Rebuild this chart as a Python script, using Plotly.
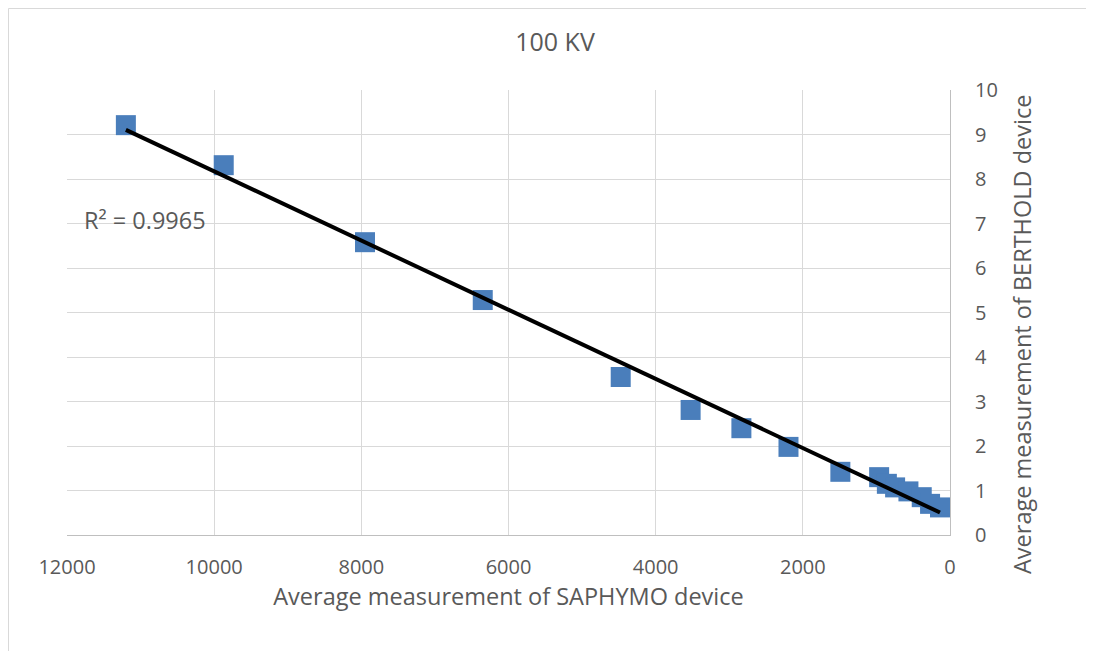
import numpy as np
import plotly.graph_objects as go

# Data
saphymo = [11200, 9870, 7950, 6350, 4475, 3525, 2835, 2195, 1490, 963, 858, 746, 565, 384, 271, 136]
berthold = [9.21, 8.31, 6.58, 5.28, 3.55, 2.81, 2.40, 1.98, 1.42, 1.30, 1.15, 1.07, 0.98, 0.85, 0.70, 0.62]
x_ticks = [12000, 10000, 8000, 6000, 4000, 2000, 0]
y_ticks = [0, 1, 2, 3, 4, 5, 6, 7, 8, 9, 10]
r2_text = "R² = 0.9965"
x_title = "Average measurement of SAPHYMO device"
y_title = "Average measurement of BERTHOLD device"

xs = np.array(saphymo, dtype=float)
ys = np.array(berthold, dtype=float)
slope, intercept = np.polyfit(xs, ys, 1)
fit_x = [xs.max(), xs.min()]
fit_y = [slope * v + intercept for v in fit_x]

grey = "#595959"
font = "Open Sans"

W, H = 1086, 643
L, R, T, B = 59, 144, 82, 116
pw, ph = W - L - R, H - T - B

fig = go.Figure()
fig.add_trace(go.Scatter(
    x=saphymo, y=berthold, mode="markers",
    marker=dict(symbol="square", size=20, color="#4A7EBB", line=dict(width=0)),
    showlegend=False, hoverinfo="skip"))
fig.add_trace(go.Scatter(
    x=fit_x, y=fit_y, mode="lines",
    line=dict(color="black", width=4), showlegend=False, hoverinfo="skip"))

fig.update_layout(
    width=W, height=H,
    margin=dict(l=L, r=R, t=T, b=B),
    paper_bgcolor="white", plot_bgcolor="white",
    font=dict(family=font, color=grey, size=20),
    title=dict(text="100 KV", x=547 / W, xanchor="center",
               y=1 - 34 / H, yanchor="middle", font=dict(size=25, color=grey)),
    xaxis=dict(range=[12000, 0], tickvals=x_ticks, ticktext=[str(v) for v in x_ticks],
               showgrid=True, gridcolor="#D9D9D9", gridwidth=1,
               showline=True, linecolor="#BFBFBF", linewidth=1, zeroline=False,
               ticks="", ticklabelstandoff=14, tickfont=dict(size=20, color=grey),
               title=dict(text=x_title, font=dict(size=23.5, color=grey), standoff=6)),
    yaxis=dict(range=[0, 10], tickvals=y_ticks, side="right",
               showgrid=True, gridcolor="#D9D9D9", gridwidth=1,
               showline=True, linecolor="#BFBFBF", linewidth=1, zeroline=False,
               ticks="", ticklabelstandoff=20, tickfont=dict(size=20, color=grey)),
    annotations=[
        dict(text=r2_text, xref="paper", yref="paper",
             x=(137 - L) / pw, y=(T + ph - 212) / ph,
             xanchor="center", yanchor="middle", showarrow=False,
             font=dict(size=23.5, color=grey)),
        dict(text=y_title, xref="paper", yref="paper", textangle=-90,
             x=(1014 - L) / pw, y=(T + ph - 326) / ph,
             xanchor="center", yanchor="middle", showarrow=False,
             font=dict(size=23.5, color=grey)),
    ],
    shapes=[
        dict(type="line", xref="paper", yref="paper",
             x0=(0.5 - L) / pw, x1=(0.5 - L) / pw,
             y0=(T + ph - H) / ph, y1=(T + ph - 0.5) / ph,
             line=dict(color="#D9D9D9", width=1), layer="below"),
        dict(type="line", xref="paper", yref="paper",
             x0=(0.5 - L) / pw, x1=(W - L) / pw,
             y0=(T + ph - 0.5) / ph, y1=(T + ph - 0.5) / ph,
             line=dict(color="#D9D9D9", width=1), layer="below"),
    ],
)

fig.write_html("out.html")
